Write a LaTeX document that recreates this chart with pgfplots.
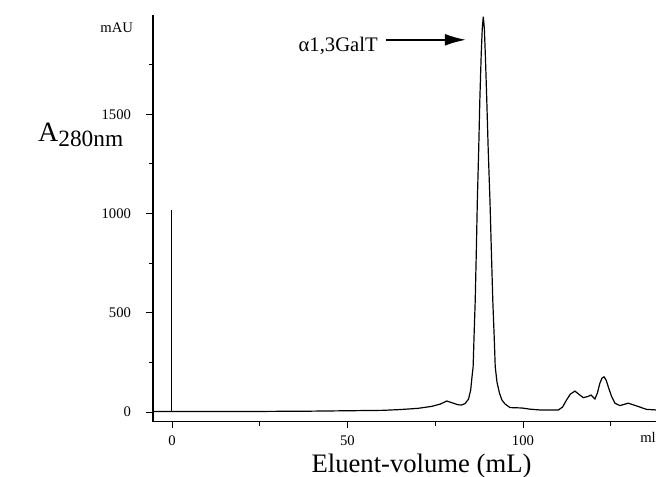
\documentclass[border=0pt]{standalone}
\usepackage{fontspec}
\setmainfont{Liberation Serif}
\usepackage{pgfplots}
\pgfplotsset{compat=1.18}
\usetikzlibrary{arrows.meta}

\begin{document}
\begin{tikzpicture}
\useasboundingbox (-114.75pt,-41.5pt) rectangle (377.25pt,316.25pt);
\begin{axis}[
    at={(0,0)}, anchor=south west,
    scale only axis, width=377.25pt, height=305pt,
    xmin=-5.4, xmax=137.9, ymin=-49, ymax=2000,
    axis x line=bottom, axis y line=left,
    axis line style={-, line width=1.1pt},
    xtick={0,50,100}, minor xtick={25,75,125},
    ytick={0,500,1000,1500}, minor ytick={250,750,1250,1750},
    tick style={black, line width=0.6pt},
    major tick length=5pt, minor tick length=3pt,
    xtick align=outside, ytick align=outside,
    minor tick style={/pgfplots/tick align=inside},
    ticklabel style={font=\fontsize{11}{13}\selectfont},
    /pgf/number format/assume math mode=true,
    /pgf/number format/1000 sep={},
    yticklabel style={xshift=-8pt},
    xticklabel style={yshift=-2pt},
    clip=false,
]
% injection marker
\addplot[black, line width=0.8pt] coordinates {(0,0)(0,1015)};
% chromatogram
\addplot[black, line width=0.9pt] coordinates {
(-5.4,2)(0,2)(10,2)(20,2)(30,3)(40,4)(50,6)(60,8)(65,12)(70,18)(74,28)
(76.5,40)(78.3,55)(80,45)(81.5,36)(82.5,35)(83.5,42)(84.5,65)(85.1,110)
(85.5,180)(85.8,227)(86.1,400)(86.4,562)(86.7,800)(87.0,1064)(87.4,1330)
(87.7,1565)(88.1,1800)(88.4,1930)(88.7,1992)(89.0,1930)(89.3,1790)
(89.7,1565)(90.1,1320)(90.6,1064)(91.0,810)(91.4,562)(91.8,380)(92.1,227)
(92.6,150)(93.3,95)(94.0,60)(94.9,40)(96.3,22)(99.6,20)(102,14)(104.8,10)
(110.1,10)(111.3,25)(112.4,60)(113.5,90)(114.8,105)(116,88)(117.2,72)
(118.5,78)(119.4,85)(120.5,65)(121.2,95)(121.9,144)(122.5,170)(123.1,177)
(123.7,160)(124.3,127)(125.2,80)(126.2,44)(127.6,32)(130.0,44)(132.4,30)
(135.2,13)(137.9,10)};
\node[anchor=base east, inner sep=0pt, font=\fontsize{15.5}{18}\selectfont] at (axis cs:58.7,1816) {α1,3GalT};
\draw[-{Latex[length=16pt,width=9pt]}, line width=1.5pt] (axis cs:61,1875) -- (axis cs:83.8,1875);
\node[anchor=base west, inner sep=0pt, font=\fontsize{21}{25}\selectfont] at (axis cs:-38.2,1365) {A\raisebox{-0.42ex}{\fontsize{17.5}{20}\selectfont 280nm}};
\node[anchor=base west, inner sep=0pt, font=\fontsize{20}{24}\selectfont] at (axis cs:39.7,-307) {Eluent-volume (mL)};
\node[anchor=east, inner sep=0pt, font=\fontsize{11}{13}\selectfont] at (axis cs:-11,1935) {mAU};
\node[anchor=north east, inner sep=0pt, font=\fontsize{11}{13}\selectfont] at (axis cs:137.9,-100) {ml};
\end{axis}
\end{tikzpicture}
\end{document}
